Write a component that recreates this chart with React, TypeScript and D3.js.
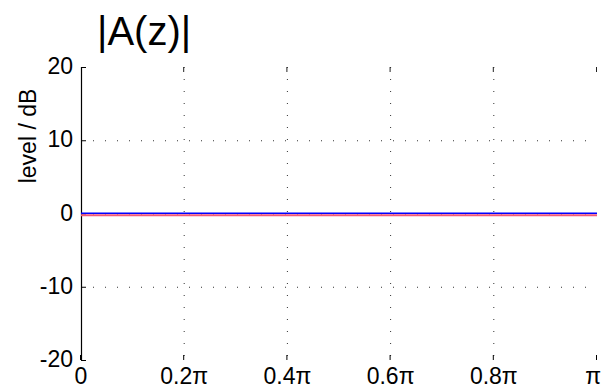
import React, { useEffect, useRef } from "react";
import * as d3 from "d3";

const freqs = [0, 0.2, 0.4, 0.6, 0.8, 1];
const blueLevel = [0, 0, 0, 0, 0, 0];
const redLevel = [-0.24, -0.24, -0.24, -0.24, -0.24, -0.24];
const xTicks = [0, 0.2, 0.4, 0.6, 0.8, 1];
const xTickLabels = ["0", "0.2\u03c0", "0.4\u03c0", "0.6\u03c0", "0.8\u03c0", "\u03c0"];
const yTicks = [-20, -10, 0, 10, 20];

export default function App() {
  const ref = useRef<SVGSVGElement>(null);

  useEffect(() => {
    const svg = d3.select(ref.current);
    svg.selectAll("*").remove();
    const W = 602, H = 390;
    const left = 81, right = 597, top = 67, bottom = 360;
    const font = "Liberation Sans, Arial, Helvetica, sans-serif";

    const x = d3.scaleLinear().domain([0, 1]).range([left, right]);
    const y = d3.scaleLinear().domain([-20, 20]).range([bottom, top]);

    svg.attr("width", W).attr("height", H);
    svg.append("rect").attr("width", W).attr("height", H).attr("fill", "white");

    // grid
    const g = svg.append("g");
    xTicks.slice(1, -1).forEach(t => {
      g.append("line")
        .attr("x1", x(t)).attr("x2", x(t)).attr("y1", top).attr("y2", bottom)
        .attr("stroke", "#333").attr("stroke-width", 1).attr("stroke-dasharray", "1,11");
    });
    yTicks.slice(1, -1).forEach(t => {
      g.append("line")
        .attr("x1", left).attr("x2", right).attr("y1", y(t) + 0.5).attr("y2", y(t) + 0.5)
        .attr("stroke", "#333").attr("stroke-width", 1).attr("stroke-dasharray", "1,11");
    });

    // left axis
    svg.append("line")
      .attr("x1", left + 0.5).attr("x2", left + 0.5).attr("y1", top).attr("y2", bottom)
      .attr("stroke", "black").attr("stroke-width", 1.2);
    yTicks.forEach(t => {
      svg.append("line")
        .attr("x1", left).attr("x2", left + 5).attr("y1", y(t) + 0.5).attr("y2", y(t) + 0.5)
        .attr("stroke", "black");
      svg.append("text")
        .attr("x", left - 8).attr("y", y(t) + 7)
        .attr("text-anchor", "end")
        .attr("font-family", font).attr("font-size", 23)
        .text(String(t));
    });

    // x ticks (top and bottom)
    xTicks.forEach((t, i) => {
      svg.append("line")
        .attr("x1", x(t) - 0.5).attr("x2", x(t) - 0.5).attr("y1", bottom).attr("y2", bottom - 5)
        .attr("stroke", "black");
      if (i > 0) {
        svg.append("line")
          .attr("x1", x(t) - 0.5).attr("x2", x(t) - 0.5).attr("y1", top).attr("y2", top + 5)
          .attr("stroke", "#222");
      }
      const last = i === xTicks.length - 1;
      svg.append("text")
        .attr("x", last ? W - 1 : x(t)).attr("y", 384)
        .attr("text-anchor", last ? "end" : "middle")
        .attr("font-family", font).attr("font-size", 23)
        .text(xTickLabels[i]);
    });

    // lines
    const line = d3.line<number>().x((_, i) => x(freqs[i]));
    svg.append("path")
      .attr("d", line.y(d => y(d))(redLevel))
      .attr("fill", "none").attr("stroke", "#f25a78").attr("stroke-width", 1.8);
    svg.append("path")
      .attr("d", line.y(d => y(d) - 0.3)(blueLevel))
      .attr("fill", "none").attr("stroke", "#0000ff").attr("stroke-width", 1.4);

    // title and label
    svg.append("text")
      .attr("x", 97).attr("y", 45)
      .attr("font-family", font).attr("font-size", 40)
      .text("|A(z)|");
    svg.append("text")
      .attr("transform", `translate(36,${136}) rotate(-90)`)
      .attr("text-anchor", "middle")
      .attr("font-family", font).attr("font-size", 23)
      .text("level / dB");
  }, []);

  return <svg ref={ref} style={{ position: "absolute", left: 0, top: 0 }} />;
}
